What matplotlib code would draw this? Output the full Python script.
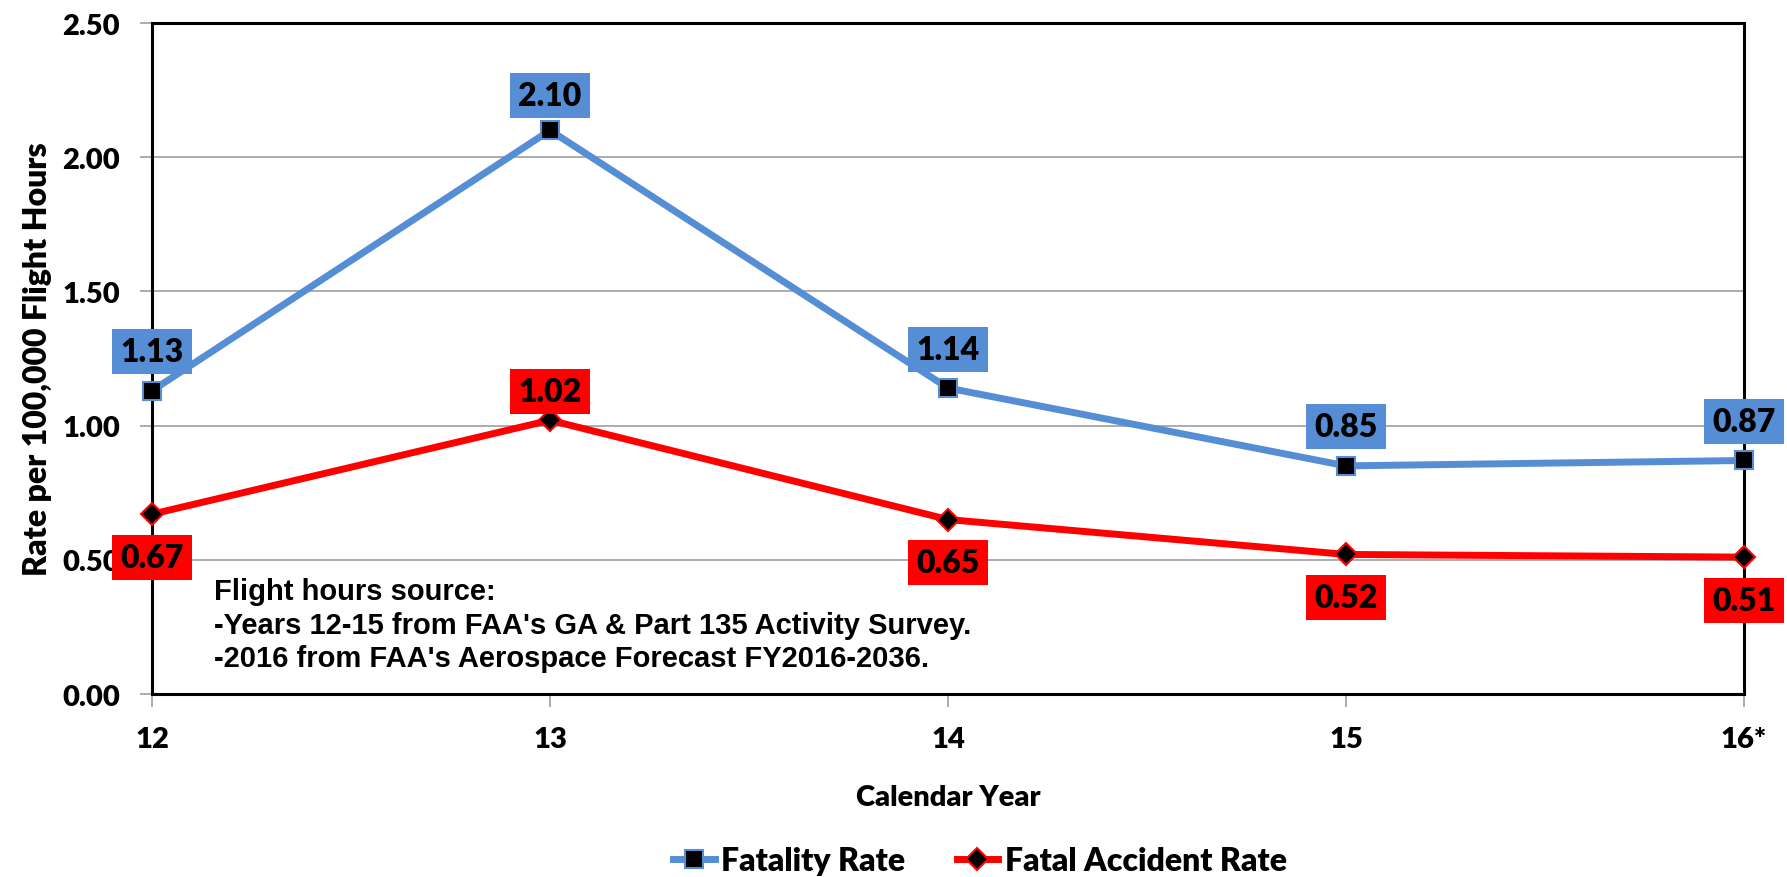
import matplotlib
matplotlib.use("Agg")
import matplotlib.pyplot as plt

# data
years = [12, 13, 14, 15, 16]
year_labels = ["12", "13", "14", "15", "16*"]
fatality_rate = [1.13, 2.10, 1.14, 0.85, 0.87]
fatal_accident_rate = [0.67, 1.02, 0.65, 0.52, 0.51]
yticks = [0.0, 0.5, 1.0, 1.5, 2.0, 2.5]

blue = "#558ED5"
red = "#FF0000"
plt.rcParams["font.family"] = ["Lato", "DejaVu Sans"]
plt.rcParams["font.weight"] = "bold"
plt.rcParams["axes.labelweight"] = "bold"

fig = plt.figure(figsize=(17.87, 8.78), dpi=100)
ax = fig.add_axes([152 / 1787, 1 - 695 / 878, (1744 - 152) / 1787, (695 - 24) / 878])

ax.plot(years, fatality_rate, color=blue, lw=5, marker="s", ms=13,
        mfc="black", mec=blue, mew=1.5, clip_on=False, zorder=4, label="Fatality Rate")
ax.plot(years, fatal_accident_rate, color=red, lw=5, marker="D", ms=11,
        mfc="black", mec=red, mew=1.5, clip_on=False, zorder=4, label="Fatal Accident Rate")

# data labels in coloured boxes
for x, y in zip(years, fatality_rate):
    dy = 25 if x == 13 else 28
    ax.annotate(f"{y:.2f}", (x, y), xytext=(0, dy), textcoords="offset points",
                ha="center", va="center", fontsize=23, fontweight="heavy",
                bbox=dict(boxstyle="square,pad=0.25", fc=blue, ec="none"),
                zorder=6, annotation_clip=False)
for x, y in zip(years, fatal_accident_rate):
    dy = 21 if x == 13 else -31
    ax.annotate(f"{y:.2f}", (x, y), xytext=(0, dy), textcoords="offset points",
                ha="center", va="center", fontsize=23, fontweight="heavy",
                bbox=dict(boxstyle="square,pad=0.25", fc=red, ec="none"),
                zorder=6, annotation_clip=False)

ax.text(12.155, 0.435, "Flight hours source:\n-Years 12-15 from FAA's GA & Part 135 Activity Survey.\n"
        "-2016 from FAA's Aerospace Forecast FY2016-2036.",
        family="Liberation Sans", fontweight="bold", fontsize=21, va="top", ha="left",
        linespacing=1.25)

ax.set_xlim(12, 16)
ax.set_ylim(0, 2.5)
ax.set_xticks(years)
ax.set_xticklabels(year_labels, fontweight="heavy")
ax.set_yticks(yticks)
ax.set_yticklabels([f"{v:.2f}" for v in yticks], fontweight="heavy")
ax.grid(axis="y", color="#A6A6A6", lw=1.3)
ax.set_axisbelow(True)
for s in ax.spines.values():
    s.set_color("black")
    s.set_linewidth(2.2)
ax.tick_params(axis="both", direction="out", length=9, width=1.3, color="#A6A6A6",
               labelsize=21)
ax.tick_params(axis="y", pad=14)
ax.tick_params(axis="x", pad=14)

ax.set_xlabel("Calendar Year", fontsize=21, fontweight="heavy", labelpad=23)
ax.set_ylabel("Rate per 100,000 Flight Hours", fontsize=23, fontweight="heavy", labelpad=7)

fig.legend(loc="center", bbox_to_anchor=(980 / 1787, 1 - 862 / 878), ncol=2, frameon=False,
           prop=dict(weight="heavy", size=23), handlelength=1.3,
           columnspacing=1.6, handletextpad=0.2)

fig.savefig("out.png", dpi=100)
